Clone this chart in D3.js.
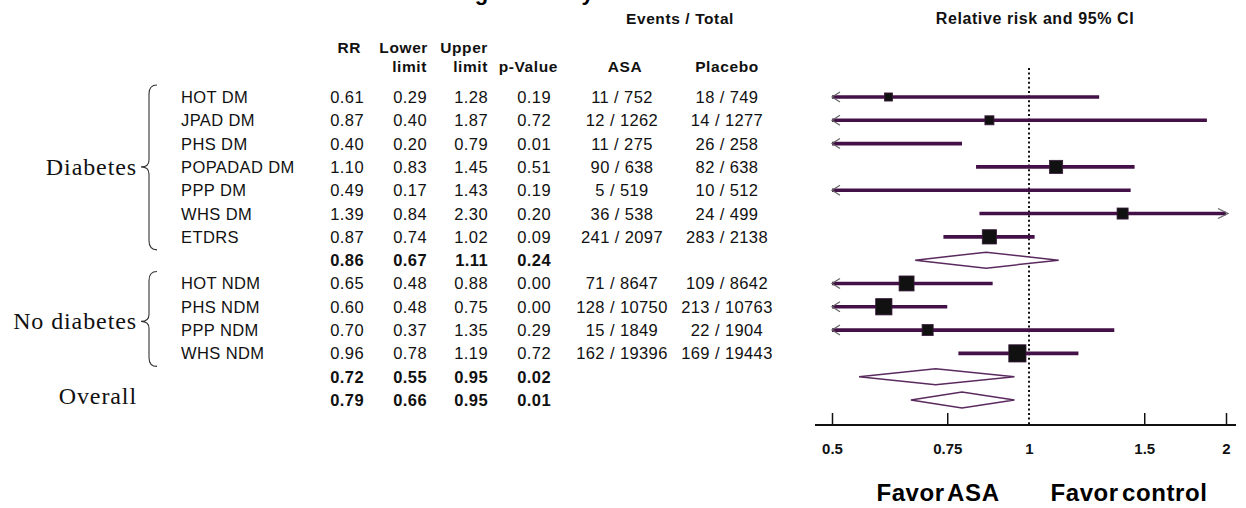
<!DOCTYPE html>
<html>
<head>
<meta charset="utf-8">
<script src="https://cdn.jsdelivr.net/npm/d3@7"></script>
<style>
  body { margin: 0; background: #fff; }
  svg { display: block; }
  .sans { font-family: "Liberation Sans", Arial, sans-serif; }
  .serif { font-family: "Liberation Serif", "Times New Roman", serif; }
  .cell { font-size: 16.5px; letter-spacing: 0.4px; fill: #111; }
  .head { font-size: 15.5px; font-weight: bold; letter-spacing: 0.6px; fill: #111; }
  .group { font-size: 24px; letter-spacing: 0.9px; fill: #111; }
</style>
</head>
<body>
<div id="chart"></div>
<script>
var svgwidth = 1246;
var svgheight = 508;

// rows of the table, top to bottom
var rowLabels = ["HOT DM", "JPAD DM", "PHS DM", "POPADAD DM", "PPP DM", "WHS DM", "ETDRS", "",
                 "HOT NDM", "PHS NDM", "PPP NDM", "WHS NDM", "", ""];
var rowKinds = ["study", "study", "study", "study", "study", "study", "study", "summary",
                "study", "study", "study", "study", "summary", "summary"];
var rr =    [0.61, 0.87, 0.40, 1.10, 0.49, 1.39, 0.87, 0.86, 0.65, 0.60, 0.70, 0.96, 0.72, 0.79];
var lower = [0.29, 0.40, 0.20, 0.83, 0.17, 0.84, 0.74, 0.67, 0.48, 0.48, 0.37, 0.78, 0.55, 0.66];
var upper = [1.28, 1.87, 0.79, 1.45, 1.43, 2.30, 1.02, 1.11, 0.88, 0.75, 1.35, 1.19, 0.95, 0.95];
var pValues = ["0.19", "0.72", "0.01", "0.51", "0.19", "0.20", "0.09", "0.24",
               "0.00", "0.00", "0.29", "0.72", "0.02", "0.01"];
var asaEvents =     [11, 12, 11, 90, 5, 36, 241, null, 71, 128, 15, 162, null, null];
var asaTotals =     [752, 1262, 275, 638, 519, 538, 2097, null, 8647, 10750, 1849, 19396, null, null];
var placeboEvents = [18, 14, 26, 82, 10, 24, 283, null, 109, 213, 22, 169, null, null];
var placeboTotals = [749, 1277, 258, 638, 512, 499, 2138, null, 8642, 10763, 1904, 19443, null, null];
// relative weight of each study (square size)
var weights = [6.4, 8, 5, 17, 4, 12, 20, null, 22, 26, 12, 29, null, null];

var groupLabels = ["Diabetes", "No diabetes", "Overall"];
var groupFirst = [0, 8, 13];
var groupLast = [6, 11, 13];

var tickValues = [0.5, 0.75, 1, 1.5, 2];
var tickLabels = ["0.5", "0.75", "1", "1.5", "2"];

var svg = d3.select("#chart").append("svg").attr("width", svgwidth).attr("height", svgheight);

var y = d3.scaleLinear().domain([0, rowLabels.length - 1]).range([97, 400]);
var x = d3.scaleLog().domain([0.5, 2]).range([832, 1226]);
var boxSize = d3.scaleSqrt().domain([0, 30]).range([0, 17.5]);

var purple = "#441048";
var fmt = d3.format(".2f");

// title (mostly outside the picture)
svg.append("text").attr("class", "sans")
    .attr("x", 423).attr("y", 0)
    .style("font-size", "22px").style("font-weight", "bold").style("letter-spacing", "1px")
    .text("Categorized by diabetes status");

// headers
function head(txt, xx, yy, anchor) {
    svg.append("text").attr("class", "sans head")
        .attr("x", xx).attr("y", yy).attr("text-anchor", anchor).text(txt);
}
var colRR = 364, colLo = 427, colUp = 488, colP = 551, colAsa = 622, colPla = 727;
head("Events / Total", 680, 24, "middle");
head("RR", colRR - 3, 53, "end");
head("Lower", colLo + 1, 53, "end");
head("limit", colLo, 72, "end");
head("Upper", colUp, 53, "end");
head("limit", colUp, 72, "end");
head("p-Value", colP + 7, 72, "end");
head("ASA", colAsa + 3, 72, "middle");
head("Placebo", colPla, 72, "middle");
svg.append("text").attr("class", "sans head")
    .attr("x", 1035).attr("y", 24).attr("text-anchor", "middle")
    .style("font-size", "16px")
    .text("Relative risk and 95% CI");

// table body
var rows = d3.range(rowLabels.length);
var table = svg.append("g").attr("class", "sans");

function column(values, xx, anchor) {
    table.append("g").selectAll("text")
        .data(rows)
        .enter()
        .append("text")
        .attr("class", "cell")
        .attr("x", xx)
        .attr("y", i => y(i) + 6)
        .attr("text-anchor", anchor)
        .style("font-weight", i => rowKinds[i] == "summary" ? "bold" : null)
        .text(i => values(i));
}
column(i => rowLabels[i], 181, "start");
column(i => fmt(rr[i]), colRR, "end");
column(i => fmt(lower[i]), colLo, "end");
column(i => fmt(upper[i]), colUp, "end");
column(i => pValues[i], colP, "end");
column(i => asaEvents[i] == null ? "" : asaEvents[i] + " / " + asaTotals[i], colAsa, "middle");
column(i => placeboEvents[i] == null ? "" : placeboEvents[i] + " / " + placeboTotals[i], colPla, "middle");

// group labels and braces
groupLabels.forEach(function(g, k) {
    var top = y(groupFirst[k]) - 12;
    var bot = y(groupLast[k]) + 13;
    var mid = (y(groupFirst[k]) + y(groupLast[k])) / 2 + (k == 1 ? 3 : 0);
    svg.append("text").attr("class", "serif group")
        .attr("x", 137).attr("y", mid + (k == 2 ? 4 : 8))
        .attr("text-anchor", "end")
        .text(g);
    if (groupFirst[k] == groupLast[k]) return;
    var xr = 157, xm = 149, xl = 141;
    var p = "M" + xr + "," + top +
        " Q" + xm + "," + top + " " + xm + "," + (top + 9) +
        " L" + xm + "," + (mid - 7) +
        " Q" + xm + "," + mid + " " + xl + "," + mid +
        " Q" + xm + "," + mid + " " + xm + "," + (mid + 7) +
        " L" + xm + "," + (bot - 9) +
        " Q" + xm + "," + bot + " " + xr + "," + bot;
    svg.append("path").attr("d", p)
        .attr("fill", "none").attr("stroke", "#333").attr("stroke-width", 1.1);
});

// forest plot
var plot = svg.append("g");
var axisY = 425;

// reference line at 1
plot.append("line")
    .attr("x1", x(1)).attr("x2", x(1))
    .attr("y1", 68).attr("y2", axisY)
    .attr("stroke", "#111").attr("stroke-width", 2)
    .attr("stroke-dasharray", "2,2.6");

var studies = rows.filter(i => rowKinds[i] == "study");
var summaries = rows.filter(i => rowKinds[i] == "summary");

var lo = i => Math.max(lower[i], 0.5);
var hi = i => Math.min(upper[i], 2);

plot.selectAll(".ci")
    .data(studies)
    .enter()
    .append("line")
    .attr("class", "ci")
    .attr("x1", i => x(lo(i)))
    .attr("x2", i => x(hi(i)))
    .attr("y1", i => y(i))
    .attr("y2", i => y(i))
    .attr("stroke", purple)
    .attr("stroke-width", 3.6);

// arrows for intervals past the axis
plot.selectAll(".larrow")
    .data(studies.filter(i => lower[i] < 0.5))
    .enter()
    .append("path")
    .attr("class", "larrow")
    .attr("d", i => "M" + (x(0.5) + 8) + "," + (y(i) - 5) + " L" + x(0.5) + "," + y(i) + " L" + (x(0.5) + 8) + "," + (y(i) + 5))
    .attr("fill", "none").attr("stroke", "#666").attr("stroke-width", 1.2);

plot.selectAll(".rarrow")
    .data(studies.filter(i => upper[i] > 2))
    .enter()
    .append("path")
    .attr("class", "rarrow")
    .attr("d", i => "M" + (x(2) - 8) + "," + (y(i) - 5) + " L" + (x(2) + 2) + "," + y(i) + " L" + (x(2) - 8) + "," + (y(i) + 5))
    .attr("fill", "none").attr("stroke", "#666").attr("stroke-width", 1.2);

plot.selectAll(".box")
    .data(studies.filter(i => rr[i] >= 0.5 && rr[i] <= 2))
    .enter()
    .append("rect")
    .attr("class", "box")
    .attr("x", i => x(rr[i]) - boxSize(weights[i]) / 2)
    .attr("y", i => y(i) - boxSize(weights[i]) / 2)
    .attr("width", i => boxSize(weights[i]))
    .attr("height", i => boxSize(weights[i]))
    .attr("fill", "#111")
    .attr("stroke", "#3a1a3c")
    .attr("stroke-width", 0.8);

plot.selectAll(".diamond")
    .data(summaries)
    .enter()
    .append("path")
    .attr("class", "diamond")
    .attr("d", i => "M" + x(lower[i]) + "," + y(i) +
        " L" + x(rr[i]) + "," + (y(i) - 8) +
        " L" + x(upper[i]) + "," + y(i) +
        " L" + x(rr[i]) + "," + (y(i) + 8) + "Z")
    .attr("fill", "#fff")
    .attr("stroke", "#5a2a5e")
    .attr("stroke-width", 1.5);

// axis
var axis = d3.axisBottom(x)
    .tickValues(tickValues)
    .tickFormat((d, k) => tickLabels[k])
    .tickSizeInner(-12)
    .tickSizeOuter(0)
    .tickPadding(18);

var axisG = plot.append("g")
    .attr("transform", "translate(0," + axisY + ")")
    .call(axis);
axisG.select(".domain").remove();
axisG.selectAll(".tick line").attr("stroke", "#111").attr("stroke-width", 1.5)
    .filter(d => d == 1).remove();
axisG.selectAll(".tick text")
    .attr("class", "sans")
    .style("font-size", "15px").style("font-weight", "bold").style("fill", "#111");
axisG.append("line")
    .attr("x1", x(0.5) - 17).attr("x2", x(2) + 10)
    .attr("stroke", "#111").attr("stroke-width", 2);

// favour labels
svg.append("text").attr("class", "sans")
    .attr("x", 938).attr("y", 501).attr("text-anchor", "middle")
    .style("font-size", "24px").style("font-weight", "bold")
    .style("letter-spacing", "0.6px").style("word-spacing", "-4px")
    .text("Favor ASA");
svg.append("text").attr("class", "sans")
    .attr("x", 1129).attr("y", 501).attr("text-anchor", "middle")
    .style("font-size", "24px").style("font-weight", "bold")
    .style("letter-spacing", "0.6px").style("word-spacing", "-4px")
    .text("Favor control");
</script>
</body>
</html>
